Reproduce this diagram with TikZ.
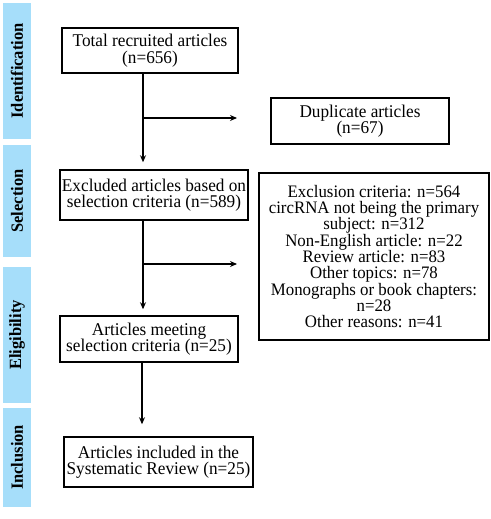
\documentclass[tikz,border=0pt]{standalone}
\usepackage{fontspec}
\setmainfont{Liberation Serif}[FakeStretch=0.96]
\usetikzlibrary{arrows.meta}
\definecolor{barblue}{RGB}{166,222,250}
\begin{document}
\begin{tikzpicture}[x=1bp,y=-1bp,
  box/.style={draw,line width=1.5bp,align=center,inner sep=0pt,font=\fontsize{18}{16.6}\selectfont},
  bar/.style={fill=barblue,draw=none,rotate=90,minimum height=28bp,inner sep=0pt,font=\fontsize{17.2}{16}\selectfont\bfseries},
  arr/.style={line width=1.3bp,-{Stealth[length=7bp,width=6bp]}},
  ln/.style={line width=1.3bp}]
\useasboundingbox (0,0) rectangle (491,519);
% side bars
\node[bar,minimum width=136bp] (b1) at (17,71) {Identification};
\node[bar,minimum width=112bp] (b2) at (17,201) {Selection};
\node[bar,minimum width=136bp] (b3) at (17,335) {Eligibility};
\node[bar,minimum width=99bp] (b4) at (17,457.5) {Inclusion};
% boxes
\node[box,minimum width=176bp,minimum height=45bp] (tot) at (150,50.5) {Total recruited articles\\(n=656)};
\node[box,minimum width=178bp,minimum height=46bp] (dup) at (360,121) {Duplicate articles\\(n=67)};
\node[box,minimum width=188bp,minimum height=50bp] (exc) at (154,195) {Excluded articles based on\\selection criteria (n=589)};
\node[box,minimum width=230bp,minimum height=167bp,font=\fontsize{17.6}{16.4}\selectfont] (crit) at (374,256.5) {Exclusion criteria: n=564\\circRNA not being the primary\\subject: n=312\\Non-English article: n=22\\Review article: n=83\\Other topics: n=78\\Monographs or book chapters:\\n=28\\Other reasons: n=41};
\node[box,minimum width=178bp,minimum height=46bp] (meet) at (149,339) {Articles meeting\\selection criteria (n=25)};
\node[box,minimum width=189bp,minimum height=50bp] (inc) at (158.5,462) {Articles included in the\\Systematic Review (n=25)};
% connectors
\coordinate (c1) at (143,118);
\coordinate (e1) at (237,118);
\coordinate (c2) at (143,264);
\coordinate (e2) at (237,264);
\coordinate (c3) at (142,400);
\draw[arr,shorten >=7bp] (tot.south -| c1) -- (exc.north -| c1);
\draw[arr] (c1) -- (e1);
\draw[arr,shorten >=6bp] (exc.south -| c2) -- (meet.north -| c2);
\draw[arr] (c2) -- (e2);
\draw[arr,shorten >=12bp] (meet.south -| c3) -- (inc.north -| c3);
\end{tikzpicture}
\end{document}
